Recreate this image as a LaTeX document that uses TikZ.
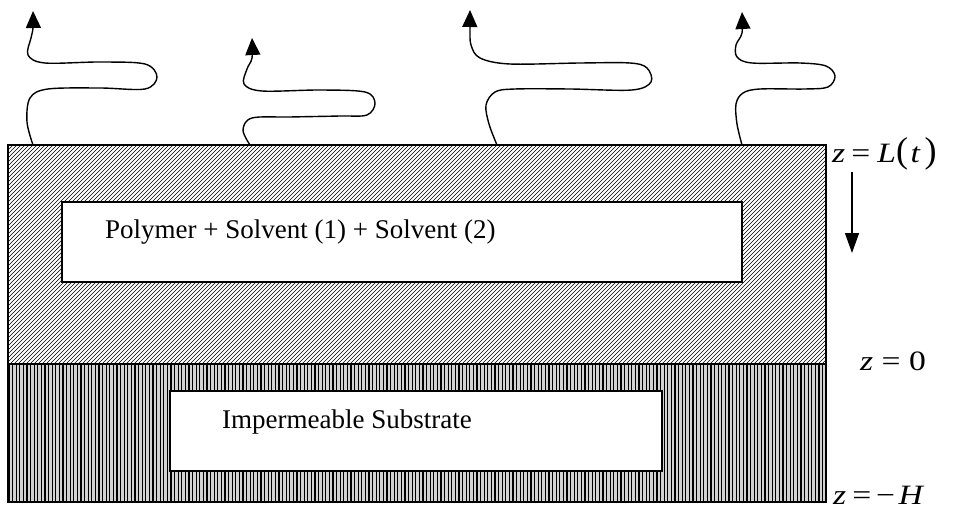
\documentclass[tikz,border=0pt]{standalone}
\usepackage{fontspec}
\usepackage{graphicx}
\setmainfont{Liberation Serif}
\usetikzlibrary{arrows.meta}
\newcommand{\bigpar}[1]{{\fontsize{36}{36}\selectfont#1}}
\newcommand{\zlab}[1]{\scalebox{1.2}[1]{#1}}
\begin{document}
\begin{tikzpicture}[x=1pt,y=-1pt,
  frame/.style={draw=black,line width=1.3pt},
  hatchd/.style={line width=0.55pt,black},
  hatchv/.style={line width=1.3pt,black},
  whitebox/.style={draw=black,line width=1.3pt,fill=white},
  body/.style={font=\fontsize{27}{30}\selectfont,anchor=base west,inner sep=0pt},
  zlabel/.style={font=\fontsize{28}{30}\selectfont,anchor=base west,inner sep=0pt},
  vapour/.style={line width=1.4pt,black,-{Triangle[width=15pt,length=17pt]},smooth,tension=0.55},
  motion/.style={line width=1.4pt,black,-{Triangle[width=14pt,length=20pt]}}]
\useasboundingbox (0,0) rectangle (955,513);

% polymer film: diagonal hatching
\begin{scope}
  \clip (8,145) rectangle (826,364);
  \foreach \i in {-230,-226,...,830}
    \draw[hatchd] (\i,364) -- ++(219,-219);
\end{scope}
% substrate: vertical hatching
\begin{scope}
  \clip (8,364) rectangle (826,502);
  \fill[gray!35] (8,364) rectangle (826,502);
  \foreach \i in {9,12.6,...,826}
    \draw[hatchv] (\i,364) -- (\i,502);
\end{scope}
\draw[frame] (8,145) rectangle (826,502);
\draw[frame] (8,364) -- (826,364);

% inner labelled boxes
\draw[whitebox] (62,202) rectangle (742,282);
\node[body] (film) at (105,238) {Polymer + Solvent (1) + Solvent (2)};
\draw[whitebox] (170,391) rectangle (662,471);
\node[body] (subs) at (222,428) {Impermeable Substrate};

% evaporating solvent
\draw[vapour] plot coordinates {(33,145) (27,122) (30,98) (48,89) (100,88) (145,89) (157,77) (145,64) (100,62) (45,63) (28,55) (31,38) (33,28) (33,11)};
\draw[vapour] plot coordinates {(250,145) (243,130) (252,118) (290,117) (340,116) (367,115) (375,103) (365,92) (320,90) (262,91) (244,84) (247,69) (252,58) (252,38)};
\draw[vapour] plot coordinates {(497,145) (489,124) (486,105) (495,92) (515,89) (570,89) (632,90) (651,82) (647,68) (630,63) (580,63) (510,64) (480,58) (471,45) (470,29) (470,10)};
\draw[vapour] plot coordinates {(742,145) (737,124) (736,104) (743,93) (760,89) (805,89) (828,87) (835,76) (826,66) (800,63) (752,63) (737,57) (736,45) (742,33) (742,12)};

% interface positions
\node[zlabel] (zL) at (832,163) {\zlab{\textit{z}\hspace{5pt}=\hspace{6pt}\textit{L}}\bigpar{(}\hspace{2.5pt}\zlab{\textit{t}}\hspace{4pt}\bigpar{)}};
\coordinate (dtop) at (852,172);
\coordinate (dbot) at (852,253);
\draw[motion] (dtop) -- (dbot);
\node[zlabel] (z0) at (860,370) {\zlab{\textit{z}\hspace{7pt}=\hspace{7pt}0}};
\node[zlabel] (zH) at (833,504) {\zlab{\textit{z}\hspace{5pt}=\hspace{4pt}−\hspace{3pt}\textit{H}}};
\end{tikzpicture}
\end{document}
